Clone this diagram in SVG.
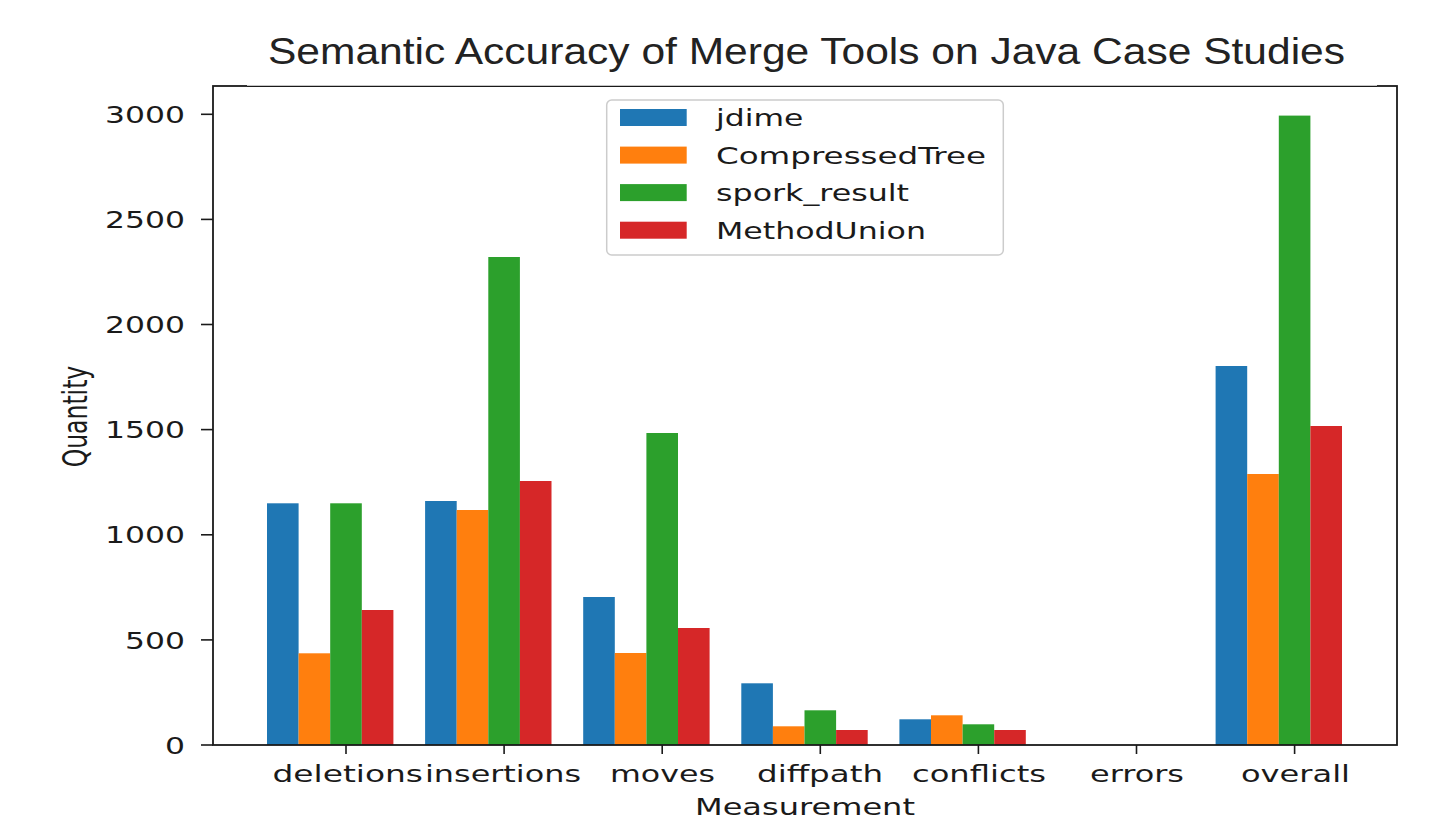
<svg xmlns="http://www.w3.org/2000/svg" width="1435" height="819" viewBox="0 0 1435 819">
<style>
.t{font-family:"DejaVu Sans",sans-serif;font-size:23.5px;fill:#1a1a1a}
.title{font-family:"Liberation Sans",Arial,sans-serif;font-size:36px;fill:#222}
.b0{fill:#1f77b4}.b1{fill:#ff7f0e}.b2{fill:#2ca02c}.b3{fill:#d62728}
.tick{stroke:#1a1a1a;stroke-width:1.6}
</style>
<rect width="1435" height="819" fill="#fff"/>

<g id="title">
<text class="title" x="268" y="64.3" textLength="1077" lengthAdjust="spacingAndGlyphs">Semantic Accuracy of Merge Tools on Java Case Studies</text>
</g>

<g id="bars">
<g id="deletions">
<rect class="b0" x="267" y="503.3" width="31.6" height="241.7"/>
<rect class="b1" x="298.6" y="653.3" width="31.6" height="91.7"/>
<rect class="b2" x="330.2" y="503.3" width="31.6" height="241.7"/>
<rect class="b3" x="361.8" y="610" width="31.6" height="135"/>
</g>
<g id="insertions">
<rect class="b0" x="425.1" y="501" width="31.6" height="244"/>
<rect class="b1" x="456.7" y="510" width="31.6" height="235"/>
<rect class="b2" x="488.3" y="257" width="31.6" height="488"/>
<rect class="b3" x="519.9" y="481" width="31.6" height="264"/>
</g>
<g id="moves">
<rect class="b0" x="583.2" y="597" width="31.6" height="148"/>
<rect class="b1" x="614.8" y="653" width="31.6" height="92"/>
<rect class="b2" x="646.4" y="433" width="31.6" height="312"/>
<rect class="b3" x="678" y="628" width="31.6" height="117"/>
</g>
<g id="diffpath">
<rect class="b0" x="741.3" y="683.3" width="31.6" height="61.7"/>
<rect class="b1" x="772.9" y="726.3" width="31.6" height="18.7"/>
<rect class="b2" x="804.5" y="710.3" width="31.6" height="34.7"/>
<rect class="b3" x="836.1" y="730" width="31.6" height="15"/>
</g>
<g id="conflicts">
<rect class="b0" x="899.4" y="719.3" width="31.6" height="25.7"/>
<rect class="b1" x="931" y="715.3" width="31.6" height="29.7"/>
<rect class="b2" x="962.6" y="724.3" width="31.6" height="20.7"/>
<rect class="b3" x="994.2" y="730" width="31.6" height="15"/>
</g>
<g id="overall">
<rect class="b0" x="1215.6" y="366" width="31.6" height="379"/>
<rect class="b1" x="1247.2" y="474" width="31.6" height="271"/>
<rect class="b2" x="1278.8" y="115.6" width="31.6" height="629.4"/>
<rect class="b3" x="1310.4" y="426" width="31.6" height="319"/>
</g>
</g>

<g id="axes">
<rect x="213" y="86" width="1184" height="659" fill="none" stroke="#1a1a1a" stroke-width="1.8"/>
<rect x="247" y="84" width="1130" height="4" fill="#fff"/>
<line x1="247" y1="86.3" x2="1377" y2="86.3" stroke="#1a1a1a" stroke-width="1.2"/>
<g id="yticks">
<line class="tick" x1="201" y1="745" x2="213" y2="745"/>
<line class="tick" x1="201" y1="639.9" x2="213" y2="639.9"/>
<line class="tick" x1="201" y1="534.8" x2="213" y2="534.8"/>
<line class="tick" x1="201" y1="429.6" x2="213" y2="429.6"/>
<line class="tick" x1="201" y1="324.5" x2="213" y2="324.5"/>
<line class="tick" x1="201" y1="219.4" x2="213" y2="219.4"/>
<line class="tick" x1="201" y1="114.3" x2="213" y2="114.3"/>
<text class="t" x="165" y="753.6" textLength="20" lengthAdjust="spacingAndGlyphs">0</text>
<text class="t" x="125.1" y="648.5" textLength="59.9" lengthAdjust="spacingAndGlyphs">500</text>
<text class="t" x="105.1" y="543.4" textLength="79.9" lengthAdjust="spacingAndGlyphs">1000</text>
<text class="t" x="105.1" y="438.2" textLength="79.9" lengthAdjust="spacingAndGlyphs">1500</text>
<text class="t" x="105.1" y="333.1" textLength="79.9" lengthAdjust="spacingAndGlyphs">2000</text>
<text class="t" x="105.1" y="228" textLength="79.9" lengthAdjust="spacingAndGlyphs">2500</text>
<text class="t" x="105.1" y="122.9" textLength="79.9" lengthAdjust="spacingAndGlyphs">3000</text>
</g>
<g id="xticks">
<line class="tick" x1="346" y1="745" x2="346" y2="754"/>
<line class="tick" x1="504.1" y1="745" x2="504.1" y2="754"/>
<line class="tick" x1="662.2" y1="745" x2="662.2" y2="754"/>
<line class="tick" x1="820.3" y1="745" x2="820.3" y2="754"/>
<line class="tick" x1="978.4" y1="745" x2="978.4" y2="754"/>
<line class="tick" x1="1136.5" y1="745" x2="1136.5" y2="754"/>
<line class="tick" x1="1294.6" y1="745" x2="1294.6" y2="754"/>
<text class="t" x="272.5" y="782" textLength="150.5" lengthAdjust="spacingAndGlyphs">deletions</text>
<text class="t" x="425" y="782" textLength="156" lengthAdjust="spacingAndGlyphs">insertions</text>
<text class="t" x="610" y="782" textLength="105" lengthAdjust="spacingAndGlyphs">moves</text>
<text class="t" x="757" y="782" textLength="126" lengthAdjust="spacingAndGlyphs">diffpath</text>
<text class="t" x="912" y="782" textLength="134" lengthAdjust="spacingAndGlyphs">conflicts</text>
<text class="t" x="1090" y="782" textLength="94" lengthAdjust="spacingAndGlyphs">errors</text>
<text class="t" x="1241" y="782" textLength="109" lengthAdjust="spacingAndGlyphs">overall</text>
</g>
<text id="xlabel" class="t" x="695" y="815" textLength="220" lengthAdjust="spacingAndGlyphs">Measurement</text>
<text id="ylabel" class="t" text-anchor="middle" transform="translate(86.5,416.5) scale(1.4,1) rotate(-90)">Quantity</text>
</g>

<g id="legend">
<rect x="606.7" y="100" width="396.6" height="155" rx="5" fill="#fff" fill-opacity="0.8" stroke="#cccccc" stroke-width="1.5"/>
<g id="leg-jdime"><rect class="b0" x="620" y="109" width="66.7" height="17"/><text class="t" x="716" y="126" textLength="87.3" lengthAdjust="spacingAndGlyphs">jdime</text></g>
<g id="leg-compressed"><rect class="b1" x="620" y="146.6" width="66.7" height="17"/><text class="t" x="716" y="163.6" textLength="270" lengthAdjust="spacingAndGlyphs">CompressedTree</text></g>
<g id="leg-spork"><rect class="b2" x="620" y="184.1" width="66.7" height="17"/><text class="t" x="716" y="201.1" textLength="193" lengthAdjust="spacingAndGlyphs">spork_result</text></g>
<g id="leg-methodunion"><rect class="b3" x="620" y="221.7" width="66.7" height="17"/><text class="t" x="716" y="238.7" textLength="210" lengthAdjust="spacingAndGlyphs">MethodUnion</text></g>
</g>
</svg>
